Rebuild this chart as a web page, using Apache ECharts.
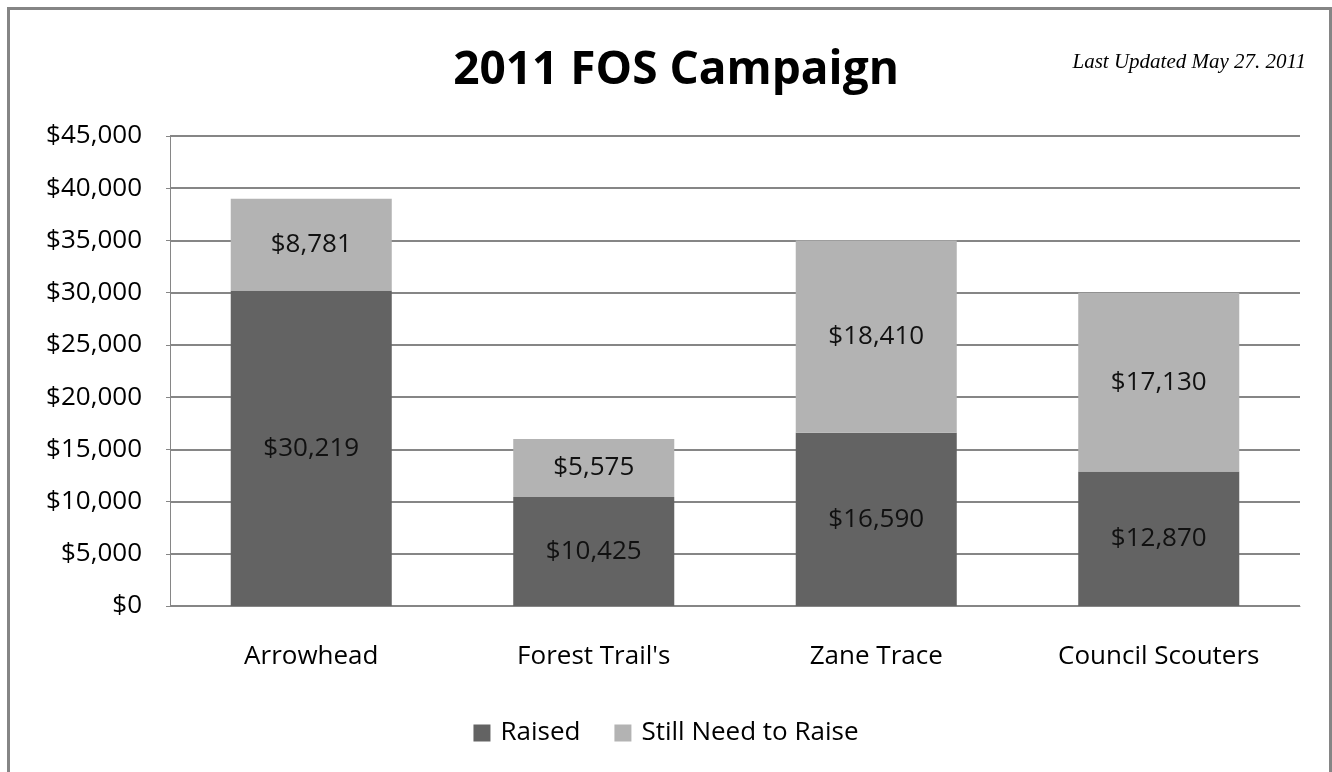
<!DOCTYPE html>
<html>
<head>
<meta charset="utf-8">
<script src="https://cdn.jsdelivr.net/npm/echarts@6/dist/echarts.min.js"></script>
<style>
  html, body { margin: 0; padding: 0; background: #fff; overflow: hidden; }
  #chart { width: 1332px; height: 772px; }
  .frame {
    position: absolute; left: 7px; top: 7px; width: 1319px; height: 800px;
    border: 3px solid #858585; pointer-events: none;
  }
</style>
</head>
<body>
<div id="chart"></div>
<div class="frame"></div>
<script>
const categories = ['Arrowhead', "Forest Trail's", 'Zane Trace', 'Council Scouters']
const raised = [30219, 10425, 16590, 12870]
const stillNeed = [8781, 5575, 18410, 17130]
const yTicks = [0, 5000, 10000, 15000, 20000, 25000, 30000, 35000, 40000, 45000]

const money = v => '$' + Number(v).toLocaleString('en-US')
const font = '"Open Sans", "Noto Sans", sans-serif'

const chart = echarts.init(document.getElementById('chart'))
chart.setOption({
  animation: false,
  title: [
    {
      text: '2011 FOS Campaign',
      left: 671,
      top: 43,
      textAlign: 'center',
      textStyle: { fontFamily: font, fontWeight: 'bold', fontSize: 46, color: '#000' },
    },
    {
      text: 'Last Updated May 27. 2011',
      right: 21,
      top: 47,
      textStyle: { fontFamily: '"Liberation Serif", serif', fontStyle: 'italic', fontWeight: 'normal', fontSize: 21, color: '#000' },
    },
  ],
  legend: {
    bottom: 21,
    left: 'center',
    itemWidth: 17,
    itemHeight: 17,
    itemGap: 34,
    icon: 'rect',
    textStyle: { fontFamily: font, fontSize: 26, color: '#000', padding: [0, 0, 0, 5] },
    data: ['Raised', 'Still Need to Raise'],
  },
  grid: { left: 170, right: 32, top: 136, bottom: 166 },
  xAxis: {
    type: 'category',
    data: categories,
    axisLine: { lineStyle: { color: '#868686', width: 1 } },
    axisTick: { show: false },
    axisLabel: { margin: 38, fontFamily: font, fontSize: 26, color: '#000' },
  },
  yAxis: {
    type: 'value',
    min: yTicks[0],
    max: yTicks[yTicks.length - 1],
    interval: 5000,
    axisLine: { show: true, lineStyle: { color: '#868686', width: 1 } },
    axisTick: { show: true, length: 4, lineStyle: { color: '#868686' } },
    splitLine: { lineStyle: { color: '#868686', width: 2 } },
    axisLabel: { margin: 28, fontFamily: font, fontSize: 26, color: '#000', formatter: money },
  },
  series: [
    {
      name: 'Raised',
      type: 'bar',
      stack: 'total',
      data: raised,
      barCategoryGap: '43%',
      itemStyle: { color: '#636363' },
      label: { show: true, position: 'inside', fontFamily: font, fontSize: 26, color: '#111', formatter: p => money(p.value) },
    },
    {
      name: 'Still Need to Raise',
      type: 'bar',
      stack: 'total',
      data: stillNeed,
      itemStyle: { color: '#b3b3b3' },
      label: { show: true, position: 'inside', fontFamily: font, fontSize: 26, color: '#111', formatter: p => money(p.value) },
    },
  ],
})
</script>
</body>
</html>
